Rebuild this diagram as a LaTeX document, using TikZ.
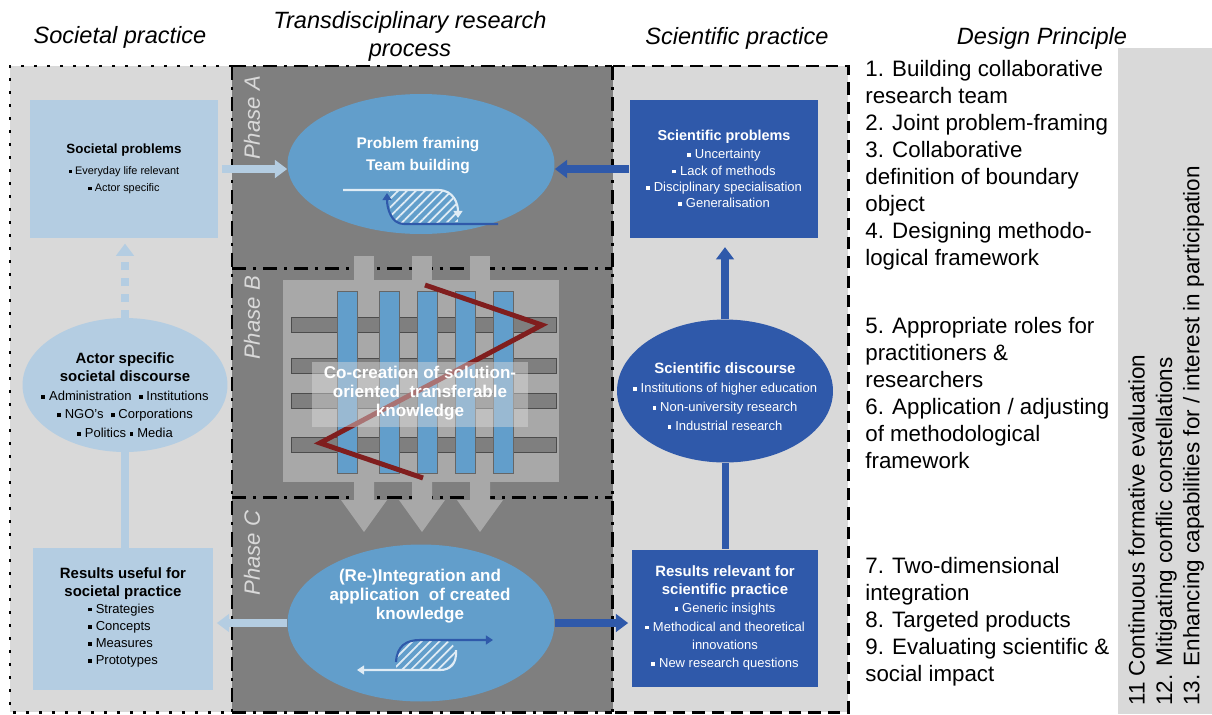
\documentclass[tikz,border=0pt]{standalone}
\usepackage{fontspec}
\setmainfont{Liberation Sans}
\usepackage{tikz}
\usetikzlibrary{shapes.geometric,arrows.meta,patterns.meta}
\definecolor{bglight}{RGB}{217,217,217}
\definecolor{bgdark}{RGB}{127,127,127}
\definecolor{paleblue}{RGB}{180,205,226}
\definecolor{phaseblue}{RGB}{98,158,203}
\definecolor{sciblue}{RGB}{47,89,170}
\definecolor{gridgray}{RGB}{168,168,168}
\definecolor{zigred}{RGB}{128,30,30}
\newcommand{\sqbul}{\rule[0.25ex]{0.55ex}{0.55ex}\hspace{0.3em}}
\newcommand{\boxhead}{\bfseries\fontsize{8.5}{11.8}\selectfont}
\tikzset{header/.style={font=\itshape\fontsize{13.4}{16}\selectfont,align=center,inner sep=0pt}}
\tikzset{boxtext/.style={align=center,inner sep=0pt,font=\fontsize{7.4}{9.8}\selectfont}}
\tikzset{societalbox/.style={boxtext,fill=paleblue}}
\tikzset{scibox/.style={boxtext,fill=sciblue,text=white}}
\tikzset{phaseellipse/.style={ellipse,fill=phaseblue,minimum width=5.34cm,inner sep=0pt}}
\tikzset{phasetext/.style={align=center,inner sep=0pt,text=white,font=\bfseries\fontsize{9.7}{11}\selectfont}}
\tikzset{phaselabel/.style={rotate=90,text=bglight,inner sep=0pt,font=\itshape\fontsize{12.6}{14}\selectfont}}
\tikzset{phaseline/.style={line width=1.7pt,dash pattern=on 8pt off 4pt on 1.7pt off 4pt}}
\tikzset{palearrow/.style={draw=paleblue,line width=4.5pt,->}}
\tikzset{sciarrow/.style={draw=sciblue,line width=4.5pt,->}}
\tikzset{hatch/.style={pattern={Lines[angle=45,distance=3.6pt,line width=1pt]},pattern color=white!80!phaseblue}}
\tikzset{iconblue/.style={draw=sciblue,line width=1.2pt,-{Triangle[length=4pt,width=5pt]}}}
\tikzset{iconwhite/.style={draw=white!80!phaseblue,line width=1.2pt,-{Triangle[length=4pt,width=5pt]}}}
\tikzset{dptext/.style={anchor=north west,inner sep=0pt,align=left,font=\fontsize{12.7}{15.4}\selectfont}}

\begin{document}
\begin{tikzpicture}[x=0.02cm,y=-0.02cm,>={Triangle[length=7pt,width=10pt]}]
	\useasboundingbox (0,0) rectangle (1212,714);
	\fill[bglight] (10,66) rectangle (232,712);
	\fill[bgdark] (232,66) rectangle (613,712);
	\fill[bglight] (613,66) rectangle (848,712);
	\fill[bglight] (1118,48) rectangle (1212,714);
	%
	\draw[line width=1.7pt,dash pattern=on 1.7pt off 5.7pt] (232,66) -- (10,66) -- (10,712) -- (232,712);
	\foreach \y in {66,268,497,712}
		\draw[phaseline] (232,\y) -- (612,\y);
	\draw[phaseline] (232,66) -- (232,712);
	\draw[phaseline] (612,66) -- (612,712);
	\draw[line width=1.7pt,dash pattern=on 7pt off 4pt] (613,66) -- (848,66) -- (848,712) -- (613,712);
	%
	\node[header] (hsoc) at (120,37) {Societal practice};
	\node[header] (htd) at (410,36) {Transdisciplinary research\\process};
	\node[header] (hsci) at (737,38) {Scientific practice};
	\node[header] (hdp) at (1042,38) {Design Principle};
	%
	\fill[gridgray] (283,280) rectangle (559,482);
	\foreach \y in {317,358,393,437}
		\draw[fill=bgdark,draw=black!70] (291,\y) rectangle (556,\y+15);
	\foreach \x in {337,379,417,455,493}
		\draw[fill=phaseblue,draw=black!60] (\x,291) rectangle (\x+20,473);
	\draw[zigred,line width=2.8pt] (425,285) -- (542,325) -- (320,443) -- (423,478);
	\fill[gridgray!40!white,opacity=.45] (312,362) rectangle (528,427);
	\foreach \x in {364,422,480} {
		\fill[gridgray] (\x-10,256) rectangle (\x+10,280);
		\fill[gridgray] (\x-10,482) -- (\x+10,482) -- (\x+10,500) -- (\x+23,500) -- (\x,532) -- (\x-23,500) -- (\x-10,500) -- cycle;
	}
	%
	\node[phaselabel] (lbla) at (252,118) {Phase A};
	\node[phaselabel] (lblb) at (252,318) {Phase B};
	\node[phaselabel] (lblc) at (252,553) {Phase C};
	%
	\node[phaseellipse,minimum height=2.8cm] (pa) at (421,164) {};
	\node[phasetext,font=\bfseries\fontsize{8.8}{12.5}\selectfont] (pat) at (418,156) {Problem framing\\Team building};
	\fill[hatch] (389,190) -- (438,190) .. controls (454,190) and (458,204) .. (458,222) -- (404,224) .. controls (391,224) and (389,208) .. (389,190) -- cycle;
	\draw[iconwhite] (343,190) -- (438,190) .. controls (454,190) and (458,204) .. (458,218);
	\draw[iconblue] (498,224) -- (404,224) .. controls (391,224) and (387,208) .. (387,193);
	%
	\node[phasetext] (pbt) at (420,393) {Co-creation of solution-\\oriented\ \ transferable\\knowledge};
	%
	\node[phaseellipse,minimum height=3.14cm] (pc) at (421,623) {};
	\node[phasetext] (pct) at (420,596) {(Re-)Integration and\\application\ \ of created\\knowledge};
	\fill[hatch] (396,670) -- (396,662) .. controls (397,646) and (406,640) .. (420,640) -- (440,640) .. controls (452,640) and (457,648) .. (456,656) .. controls (455,666) and (448,670) .. (440,670) -- cycle;
	\draw[iconblue] (396,662) .. controls (397,646) and (406,640) .. (420,640) -- (493,640);
	\draw[iconwhite] (456,650) .. controls (457,664) and (450,670) .. (440,670) -- (357,670);
	%
	\node[societalbox,font=\fontsize{6.2}{9.7}\selectfont,minimum width=3.76cm,minimum height=2.76cm] (sp) at (124,169)
		{{\bfseries\fontsize{7.6}{10}\selectfont Societal problems}\\[2pt]\sqbul Everyday life relevant\\\sqbul Actor specific};
	\node[ellipse,fill=paleblue,minimum width=4.1cm,minimum height=2.68cm,inner sep=0pt] (asd) at (125,385) {};
	\node[boxtext,font=\fontsize{7.4}{10.6}\selectfont] (asdt) at (125,395)
		{{\boxhead Actor specific}\\{\boxhead societal discourse}\\\sqbul Administration\ \ \sqbul Institutions\\\sqbul NGO’s\ \ \sqbul Corporations\\\sqbul Politics \sqbul Media};
	\node[societalbox,minimum width=3.6cm,minimum height=2.84cm] (rus) at (123,619)
		{{\boxhead Results useful for}\\{\boxhead societal practice}\\\begin{tabular}{@{}l@{}}\sqbul Strategies\\\sqbul Concepts\\\sqbul Measures\\\sqbul Prototypes\end{tabular}};
	%
	\node[scibox,font=\fontsize{7.4}{9.3}\selectfont,minimum width=3.78cm,minimum height=2.76cm] (scp) at (724,169)
		{{\bfseries\fontsize{8.2}{11}\selectfont Scientific problems}\\[1pt]\sqbul Uncertainty\\\sqbul Lack of methods\\\sqbul Disciplinary specialisation\\\sqbul Generalisation};
	\node[ellipse,fill=sciblue,minimum width=4.32cm,minimum height=2.86cm,inner sep=0pt] (sd) at (725,391) {};
	\node[boxtext,text=white,font=\fontsize{7.4}{10.8}\selectfont] (sdt) at (725,397)
		{{\boxhead Scientific discourse}\\\sqbul Institutions of higher education\\\sqbul Non-university research\\\sqbul Industrial research};
	\node[scibox,font=\fontsize{7.4}{10.4}\selectfont,minimum width=3.72cm,minimum height=2.74cm] (rrs) at (725,618)
		{{\boxhead Results relevant for}\\{\boxhead scientific practice}\\\sqbul Generic insights\\\sqbul Methodical and theoretical\\innovations\\\sqbul New research questions};
	%
	\draw[draw=paleblue,line width=5pt,dash pattern=on 4.5pt off 4.5pt,->,shorten >=3pt] (asd.north) -- (asd.north |- sp.south);
	\draw[draw=paleblue,line width=4pt] (asd.south) -- (asd.south |- rus.north);
	\draw[palearrow,shorten <=2pt] (sp.east) -- (sp.east -| pa.west);
	\draw[sciarrow] (scp.west) -- (scp.west -| pa.east);
	\draw[sciarrow,shorten >=5pt] (sd.north) -- (sd.north |- scp.south);
	\draw[draw=sciblue,line width=4pt] (sd.south) -- (sd.south |- rrs.north);
	\draw[palearrow,shorten >=2pt] (pc.west) -- (pc.west -| rus.east);
	\draw[sciarrow,shorten >=2pt] (pc.east) -- (pc.east -| rrs.west);
	%
	\node[dptext] (dpa) at (865,60) {1. Building collaborative\\research team\\2. Joint problem-framing\\3. Collaborative\\definition of boundary\\object\\4. Designing methodo-\\logical framework};
	\node[dptext] (dpb) at (865,317) {5. Appropriate roles for\\practitioners \&\\researchers\\6. Application / adjusting\\of methodological\\framework};
	\node[dptext] (dpc) at (865,557) {7. Two-dimensional\\integration\\8. Targeted products\\9. Evaluating scientific \&\\social impact};
	\node[rotate=90,anchor=north west,inner sep=0pt,align=left,font=\fontsize{12.8}{15.6}\selectfont] (cross) at (1128,706)
		{11 Continuous formative evaluation\\12. Mitigating conflic constellations\\13. Enhancing capabilities for / interest in participation};
\end{tikzpicture}
\end{document}
